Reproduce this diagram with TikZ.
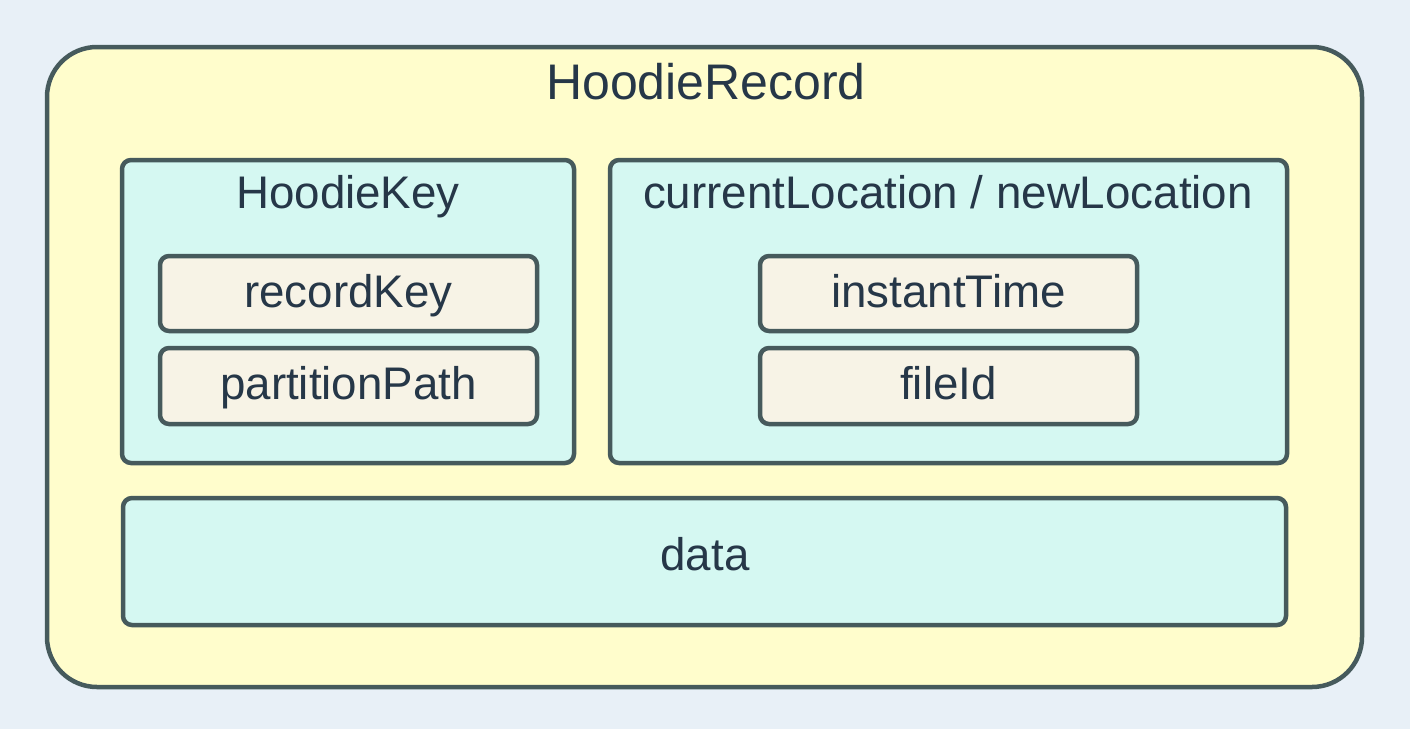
\documentclass[tikz,border=0pt]{standalone}
\usepackage{fontspec}
\setmainfont{Liberation Sans}
\definecolor{bgc}{HTML}{E8F0F7}
\definecolor{outerfill}{HTML}{FFFDCC}
\definecolor{strokec}{HTML}{465A5C}
\definecolor{cyanfill}{HTML}{D5F8F2}
\definecolor{fieldfill}{HTML}{F7F3E6}
\definecolor{textc}{HTML}{263748}
\begin{document}
\begin{tikzpicture}[x=1pt,y=-1pt,
  outerbox/.style={draw=strokec,fill=outerfill,line width=4.5pt,rounded corners=50pt},
  groupbox/.style={draw=strokec,fill=cyanfill,line width=4.5pt,rounded corners=9pt},
  fieldbox/.style={draw=strokec,fill=fieldfill,line width=4.5pt,rounded corners=9pt},
  lbl/.style={text=textc,font=\fontsize{45.7}{50}\selectfont,anchor=base,inner sep=0pt},
  title/.style={text=textc,font=\fontsize{50}{55}\selectfont,anchor=base,inner sep=0pt}]
\useasboundingbox (0,0) rectangle (1410,728);
\fill[bgc] (-2,-2) rectangle (1412,730);
\draw[outerbox] (47,47) rectangle (1362,687);
\node[title] (rec) at (706,99) {HoodieRecord};
\draw[groupbox] (122,160) rectangle (574,463);
\node[lbl] (hk) at (348,208) {HoodieKey};
\draw[groupbox] (610,160) rectangle (1287,463);
\node[lbl] (loc) at (948,208) {currentLocation / newLocation};
\draw[fieldbox] (160,256) rectangle (537,331);
\node[lbl] (rk) at (348.5,307) {recordKey};
\draw[fieldbox] (160,348) rectangle (537,424);
\node[lbl] (pp) at (348.5,399) {partitionPath};
\draw[fieldbox] (760,256) rectangle (1137,331);
\node[lbl] (it) at (948.5,307) {instantTime};
\draw[fieldbox] (760,348) rectangle (1137,424);
\node[lbl] (fi) at (948.5,399) {fileId};
\draw[groupbox] (123,498) rectangle (1286,625);
\node[lbl] (dt) at (705,570) {data};
\end{tikzpicture}
\end{document}
